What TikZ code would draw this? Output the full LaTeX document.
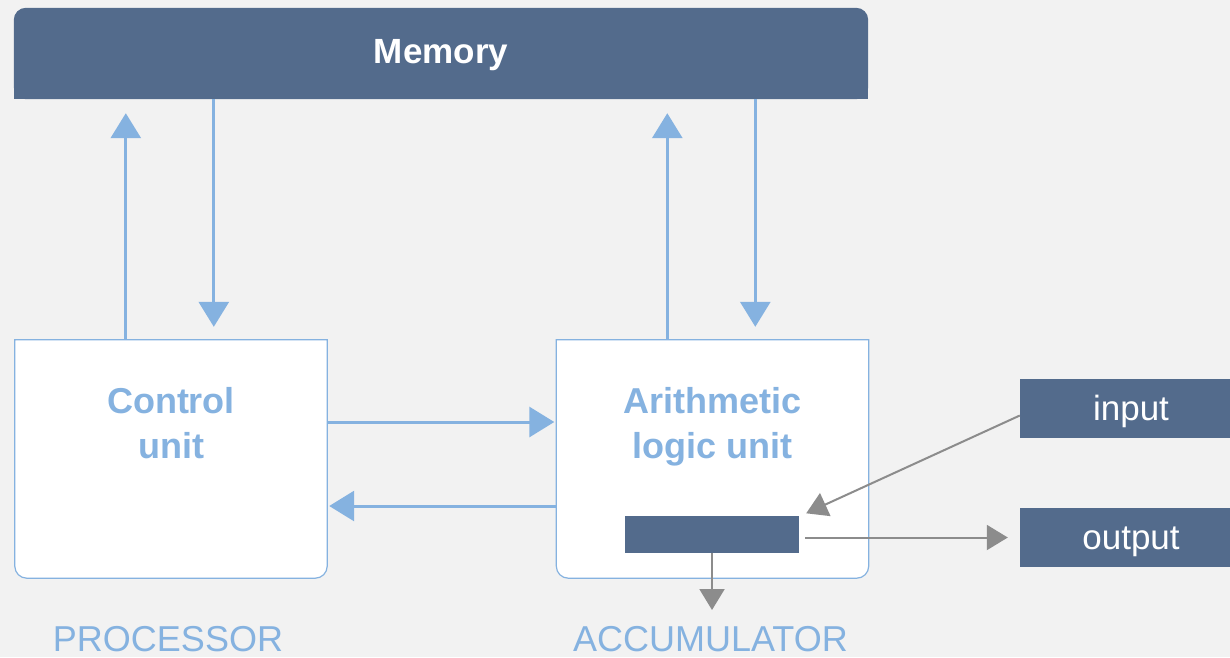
\documentclass[tikz,border=0pt]{standalone}
\usepackage{fontspec}
\setmainfont{Liberation Sans}
\usepackage{tikz}
\usetikzlibrary{arrows.meta, positioning, calc}
\definecolor{memblue}{RGB}{83,107,140}
\definecolor{lineblue}{RGB}{133,178,224}
\definecolor{arrowgray}{RGB}{140,140,140}
\definecolor{bggray}{RGB}{242,242,242}
\tikzset{
x=1pt, y=-1pt,
>={Triangle[width=30pt,length=25pt]},
darkbox/.style={%
    rectangle,
    fill=memblue,
    text=white,
    inner sep=0pt,
    text height=30pt,
    text depth=7pt,
},
unitbox/.style={%
    rectangle,
    minimum width=312pt,
    minimum height=238pt,
    inner sep=0pt,
},
unittext/.style={%
    anchor=north,
    inner sep=0pt,
    align=center,
    text=lineblue,
    font=\fontsize{36}{45}\selectfont\bfseries,
},
caption/.style={%
    anchor=north,
    inner sep=0pt,
    text=lineblue,
    font=\fontsize{36}{40}\selectfont,
},
flow/.style={->, draw=lineblue, line width=3pt},
dataflow/.style={-{Triangle[width=25pt,length=21pt]}, draw=arrowgray, line width=2pt},
}

\begin{document}
\begin{tikzpicture}
	\clip (0,0) rectangle (1230,657);
	\fill[bggray] (0,0) rectangle (1230,657);

	% memory
	\node[minimum width=854pt, minimum height=91pt, inner sep=0pt] (mem) at (441,53.5) {};
	\fill[memblue, rounded corners=12pt] (mem.south west) rectangle (mem.north east);
	\fill[memblue] (mem.south west) rectangle (mem.east);
	\node[text=white, font=\fontsize{35}{40}\selectfont\bfseries] (memtext) at ([yshift=-2pt]mem) {Memory};

	% processing units
	\node[unitbox] (cu) at (171,459) {};
	\node[unitbox] (alu) at (712.5,459) {};
	\foreach \u in {cu, alu} {
		\filldraw[fill=white, draw=lineblue, line width=1.2pt]
			(\u.north west) -- (\u.north east)
			[rounded corners=12pt] -- (\u.south east) -- (\u.south west)
			[sharp corners] -- cycle;
	}
	\node[unittext] (cutext) at ([yshift=-47pt]cu.north) {Control\\unit};
	\node[unittext] (alutext) at ([yshift=-47pt]alu.north) {Arithmetic\\logic unit};

	% accumulator and i/o
	\node[darkbox, minimum width=174pt, minimum height=36pt] (acc) at (712,534) {};
	\node[darkbox, minimum width=222pt, minimum height=59pt,
		font=\fontsize{35}{40}\selectfont] (inp) at (1131,408.5) {input};
	\node[darkbox, minimum width=222pt, minimum height=59pt,
		font=\fontsize{35}{40}\selectfont] (out) at (1131,537.5) {output};

	% captions
	\node[caption] (proclbl) at (168,626) {PROCESSOR};
	\node[caption] (acclbl) at (710.5,626) {ACCUMULATOR};

	% memory traffic
	\draw[flow, shorten >=14pt] ([xshift=111pt]cu.north west) -- ([xshift=111pt]cu.north west |- mem.south);
	\draw[flow, shorten >=13pt] ([xshift=199pt]cu.north west |- mem.south) -- ([xshift=199pt]cu.north west);
	\draw[flow, shorten >=14pt] ([xshift=111pt]alu.north west) -- ([xshift=111pt]alu.north west |- mem.south);
	\draw[flow, shorten >=13pt] ([xshift=199pt]alu.north west |- mem.south) -- ([xshift=199pt]alu.north west);

	% between the units
	\draw[flow, shorten >=2pt] ([yshift=37pt]cu.east) -- ([yshift=37pt]alu.west);
	\draw[flow, shorten >=2pt] ([yshift=-47pt]alu.west) -- ([yshift=-47pt]cu.east);

	% data in and out
	\draw[dataflow] ([yshift=-7pt]inp.west) -- ([xshift=7pt,yshift=2pt]acc.north east);
	\draw[dataflow, shorten >=12pt] ([xshift=6pt]acc.east |- out.west) -- (out.west);
	\draw[dataflow, shorten >=16pt] (acc.south) -- (acc.south |- acclbl.north);
\end{tikzpicture}
\end{document}
